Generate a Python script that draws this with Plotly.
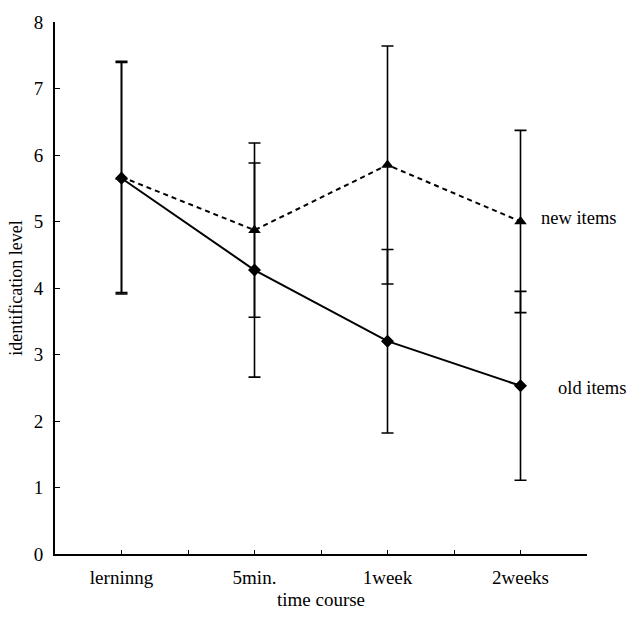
import plotly.graph_objects as go

categories = ["lerninng", "5min.", "1week", "2weeks"]
old_items = [5.65, 4.27, 3.20, 2.53]
old_err = [1.74, 1.61, 1.38, 1.42]
new_items = [5.67, 4.87, 5.85, 5.00]
new_err = [1.74, 1.31, 1.79, 1.37]
y_ticks = [0, 1, 2, 3, 4, 5, 6, 7, 8]

xpos = list(range(len(categories)))
FONT = "Liberation Serif"

fig = go.Figure()
fig.add_trace(go.Scatter(
    x=xpos, y=new_items, mode="lines+markers",
    line=dict(color="black", width=2, dash="5px,4px"),
    marker=dict(symbol="triangle-up", size=11, color="black"),
    error_y=dict(type="data", array=new_err, visible=True, color="black", thickness=1.6, width=6),
    showlegend=False))
fig.add_trace(go.Scatter(
    x=xpos, y=old_items, mode="lines+markers",
    line=dict(color="black", width=2),
    marker=dict(symbol="diamond", size=10, color="black"),
    error_y=dict(type="data", array=old_err, visible=True, color="black", thickness=1.6, width=6),
    showlegend=False))

fig.add_annotation(x=3.14, y=new_items[-1] + 0.06, text="new items", showarrow=False,
                   xanchor="left", yanchor="middle", font=dict(family=FONT, size=18.5, color="black"))
fig.add_annotation(x=3.27, y=old_items[-1] - 0.04, text="old items", showarrow=False,
                   xanchor="left", yanchor="middle", font=dict(family=FONT, size=18.5, color="black"))

fig.update_layout(
    width=630, height=619,
    margin=dict(l=55, r=43, t=16, b=64),
    plot_bgcolor="white", paper_bgcolor="white",
    font=dict(family=FONT, color="black"),
    xaxis=dict(
        range=[-0.5, 3.5], tickvals=xpos, ticktext=categories,
        ticks="inside", ticklen=4, tickwidth=1, tickcolor="black",
        minor=dict(dtick=0.5, tick0=0.5, ticks="inside", ticklen=4, tickcolor="black"),
        showline=True, linecolor="black", linewidth=2, showgrid=False, zeroline=False,
        tickfont=dict(family=FONT, size=19),
        title=dict(text="time course", font=dict(family=FONT, size=19), standoff=6),
        ticklabelstandoff=5,
    ),
    yaxis=dict(
        range=[0, 8], tickvals=y_ticks,
        ticks="inside", ticklen=5, tickwidth=1, tickcolor="black",
        showline=True, linecolor="black", linewidth=2, showgrid=False, zeroline=False,
        tickfont=dict(family=FONT, size=19),
        title=dict(text="identification level", font=dict(family=FONT, size=18), standoff=6),
        ticklabelstandoff=6,
    ),
)

fig.write_html("out.html")
